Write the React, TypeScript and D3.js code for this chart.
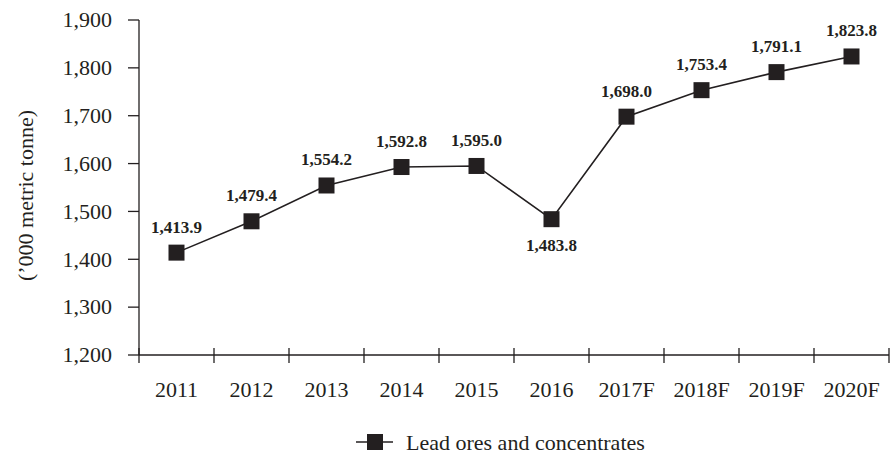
import React from "react";
import * as d3 from "d3";

// Lead ores and concentrates output, thousand metric tonnes
const years: string[] = ["2011", "2012", "2013", "2014", "2015", "2016", "2017F", "2018F", "2019F", "2020F"];
const values: number[] = [1413.9, 1479.4, 1554.2, 1592.8, 1595.0, 1483.8, 1698.0, 1753.4, 1791.1, 1823.8];
const labelBelow: boolean[] = [false, false, false, false, false, true, false, false, false, false];
const yTicks: number[] = [1200, 1300, 1400, 1500, 1600, 1700, 1800, 1900];
const seriesName = "Lead ores and concentrates";
const yTitle = "(\u2019000 metric tonne)";

const W = 891;
const H = 456;
const ink = "#231f20";
const font = "'Liberation Serif', 'Times New Roman', serif";

export default function App() {
  const x = d3.scaleBand<string>().domain(years).range([139, 889]).padding(0);
  const y = d3.scaleLinear().domain([1200, 1900]).range([355, 20]);
  const cx = (d: string) => (x(d) ?? 0) + x.bandwidth() / 2;
  const line = d3
    .line<number>()
    .x((_, i) => cx(years[i]))
    .y((v) => y(v));
  const fmt = d3.format(",.1f");
  const fmtTick = d3.format(",");
  const m = 16;
  const boundaries = [...years.map((d) => x(d) ?? 0), x.range()[1]];
  const legendY = 442;

  return (
    <svg
      width={W}
      height={H}
      style={{ position: "absolute", left: 0, top: 0, background: "#fff" }}
      fontFamily={font}
    >
      {/* y axis */}
      <line x1={139} x2={139} y1={y(1900)} y2={y(1200)} stroke={ink} strokeWidth={1.3} />
      {yTicks.map((t) => (
        <g key={t}>
          <line x1={128} x2={139} y1={y(t)} y2={y(t)} stroke={ink} strokeWidth={1.3} />
          <text x={112} y={y(t)} dy="0.33em" textAnchor="end" fontSize={22} fill={ink}>
            {fmtTick(t)}
          </text>
        </g>
      ))}
      <text
        transform={`translate(26,${(y(1200) + y(1900)) / 2 + 8}) rotate(-90)`}
        textAnchor="middle"
        dy="0.33em"
        fontSize={22}
        fill={ink}
      >
        {yTitle}
      </text>

      {/* x axis */}
      <line x1={139} x2={889} y1={y(1200)} y2={y(1200)} stroke={ink} strokeWidth={1.3} />
      {boundaries.map((b, i) => (
        <line key={i} x1={b} x2={b} y1={y(1200) - 7} y2={y(1200) + 8} stroke={ink} strokeWidth={1.3} />
      ))}
      {years.map((d) => (
        <text key={d} x={cx(d)} y={397} textAnchor="middle" fontSize={22} fill={ink}>
          {d}
        </text>
      ))}

      {/* series */}
      <path d={line(values) ?? ""} fill="none" stroke={ink} strokeWidth={1.6} />
      {values.map((v, i) => (
        <g key={years[i]}>
          <rect x={cx(years[i]) - m / 2} y={y(v) - m / 2} width={m} height={m} fill={ink} />
          <text
            x={cx(years[i])}
            y={labelBelow[i] ? y(v) + 32 : y(v) - 20}
            textAnchor="middle"
            fontSize={17}
            fontWeight="bold"
            fill={ink}
          >
            {fmt(v)}
          </text>
        </g>
      ))}

      {/* legend */}
      <line x1={356} x2={393} y1={legendY} y2={legendY} stroke={ink} strokeWidth={1.6} />
      <rect x={375 - m / 2} y={legendY - m / 2} width={m} height={m} fill={ink} />
      <text x={406} y={legendY + 8} fontSize={22} fill={ink}>
        {seriesName}
      </text>
    </svg>
  );
}
